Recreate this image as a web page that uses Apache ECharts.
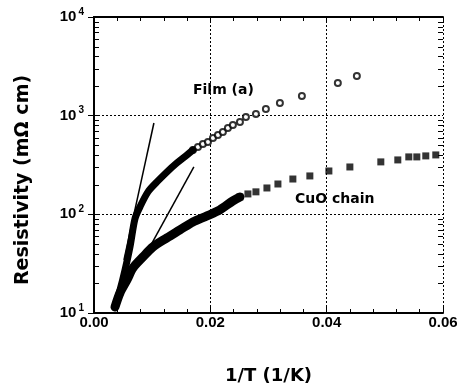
<!DOCTYPE html>
<html>
<head>
<meta charset="utf-8">
<script src="https://cdn.jsdelivr.net/npm/echarts@6/dist/echarts.min.js"></script>
<style>
  html, body { margin: 0; padding: 0; background: #fff; }
  #chart { width: 457px; height: 384px; }
</style>
</head>
<body>
<div id="chart"></div>
<script>
// Film (a): dense part (drawn as a thick band) and the resolved open circles
var filmDense = [
  [0.00361, 11.5], [0.00447, 17.1], [0.00533, 27.3], [0.00619, 46.8],
  [0.00704, 90], [0.0079, 119], [0.00928, 169], [0.01082, 213],
  [0.01254, 269], [0.01426, 332], [0.01598, 400], [0.01701, 449]
];
var filmPoints = [
  [0.01701, 449], [0.01787, 482], [0.01873, 517], [0.01959, 542],
  [0.02045, 595], [0.02131, 637], [0.02216, 684], [0.02302, 750],
  [0.02388, 805], [0.02509, 863], [0.02612, 970], [0.02784, 1040],
  [0.02955, 1170], [0.03196, 1345], [0.03574, 1585], [0.04192, 2145],
  [0.04519, 2525]
];
// CuO chain: dense band and the filled squares
var cuoDense = [
  [0.00361, 11.5], [0.00447, 16.0], [0.00567, 21.6], [0.0067, 28.6],
  [0.00842, 37.0], [0.01014, 46.8], [0.01254, 57.7], [0.01478, 69.5],
  [0.01701, 83.7], [0.01942, 96.4], [0.02165, 111], [0.02388, 137],
  [0.02509, 150]
];
var cuoPoints = [
  [0.02509, 150], [0.02646, 161], [0.02784, 169], [0.02973, 185],
  [0.03162, 203], [0.03419, 228], [0.03711, 245], [0.04038, 275],
  [0.04399, 302], [0.04931, 340], [0.05223, 356], [0.05412, 382],
  [0.0555, 382], [0.05704, 391], [0.05876, 400]
];
// the two straight fit lines
var fitLine1 = [[0.00515, 34.5], [0.0103, 843]];
var fitLine2 = [[0.00961, 46.7], [0.01717, 302]];

// axes
var xMin = 0, xMax = 0.06, xStep = 0.02;
var yMin = 10, yMax = 10000;
var decades = [10, 100, 1000];
var mantissas = [2, 3, 4, 5, 6, 7, 8, 9];

// 2..9 minor tick values of the log axis
var minorTickVals = [];
decades.forEach(function (d) {
  mantissas.forEach(function (m) { minorTickVals.push(d * m); });
});

var tickFont = 'Liberation Sans';
var nameFont = 'DejaVu Sans';

var chart = echarts.init(document.getElementById('chart'));

var baseX = {
  type: 'value', min: xMin, max: xMax, interval: xStep,
  axisLine: { show: true, onZero: false, lineStyle: { color: '#000', width: 2 } },
  axisTick: { show: true, inside: true, length: 6, lineStyle: { color: '#000', width: 1 } },
  minorTick: { show: true, splitNumber: 5, length: 4, lineStyle: { color: '#000', width: 1 } }
};

var option = {
  backgroundColor: '#fff',
  animation: false,
  grid: { left: 94, right: 14, top: 17, bottom: 71, outerBoundsMode: 'none', containLabel: false },
  xAxis: [
    Object.assign({}, baseX, {
      position: 'bottom',
      name: '1/T (1/K)',
      nameLocation: 'middle',
      nameGap: 54,
      nameTextStyle: { fontFamily: nameFont, fontWeight: 'bold', fontSize: 18, color: '#000' },
      axisLabel: {
        margin: 2,
        fontFamily: tickFont, fontWeight: 'bold', fontSize: 15, color: '#000',
        formatter: function (v) { return v.toFixed(2); }
      },
      splitLine: { show: true, lineStyle: { color: '#000', width: 1, type: [2, 2] } }
    }),
    Object.assign({}, baseX, {
      position: 'top',
      axisLabel: { show: false },
      splitLine: { show: false }
    })
  ],
  yAxis: [
    {
      type: 'log', logBase: 10, min: yMin, max: yMax, position: 'left',
      name: 'Resistivity (m\u03A9 cm)',
      nameLocation: 'middle',
      nameGap: 61,
      nameTextStyle: {
        fontFamily: nameFont, fontWeight: 'bold', fontSize: 19, color: '#000',
        padding: [0, 30, 0, 0]
      },
      axisLine: { show: true, lineStyle: { color: '#000', width: 2 } },
      axisTick: { show: true, inside: true, length: 6, lineStyle: { color: '#000' } },
      axisLabel: {
        margin: 10,
        formatter: function (v) {
          return '{b|10}{s|' + Math.round(Math.log10(v)) + '}';
        },
        rich: {
          b: { fontFamily: tickFont, fontWeight: 'bold', fontSize: 15, color: '#000', lineHeight: 20 },
          s: { fontFamily: tickFont, fontWeight: 'bold', fontSize: 10, color: '#000',
               verticalAlign: 'top', lineHeight: 10, padding: [0, 0, 0, 2] }
        }
      },
      splitLine: { show: true, lineStyle: { color: '#000', width: 1, type: [2, 2] } }
    },
    {
      type: 'log', logBase: 10, min: yMin, max: yMax, position: 'right',
      axisLine: { show: true, lineStyle: { color: '#000', width: 2 } },
      axisTick: { show: true, inside: true, length: 6, lineStyle: { color: '#000' } },
      axisLabel: { show: false },
      splitLine: { show: false }
    }
  ],
  series: [
    {
      // short inward ticks at 2..9 x 10^n on both frame sides
      name: 'minor ticks', type: 'custom', silent: true, z: 5,
      xAxisIndex: 0, yAxisIndex: 0,
      data: minorTickVals.map(function (v) { return [xMin, v]; }),
      renderItem: function (params, api) {
        var v = api.value(1);
        var p = api.coord([xMin, v]);
        var q = api.coord([xMax, v]);
        var y = Math.round(p[1]) + 0.5;
        return {
          type: 'group',
          children: [
            { type: 'line', shape: { x1: p[0], y1: y, x2: p[0] + 5, y2: y },
              style: { stroke: '#000', lineWidth: 1 } },
            { type: 'line', shape: { x1: q[0] - 5, y1: y, x2: q[0], y2: y },
              style: { stroke: '#000', lineWidth: 1 } }
          ]
        };
      }
    },
    {
      name: 'CuO chain band', type: 'line', data: cuoDense, showSymbol: false, symbol: 'none',
      smooth: 0.3,
      lineStyle: { color: '#000', width: 9, cap: 'round', join: 'round' }
    },
    {
      name: 'Film band', type: 'line', data: filmDense, showSymbol: false, symbol: 'none',
      smooth: 0.3,
      lineStyle: { color: '#000', width: 7, cap: 'round', join: 'round' }
    },
    {
      name: 'CuO chain', type: 'scatter', data: cuoPoints, symbol: 'rect', symbolSize: 7,
      itemStyle: { color: '#000' }
    },
    {
      name: 'Film (a)', type: 'scatter', data: filmPoints, symbol: 'circle', symbolSize: 6,
      itemStyle: { color: '#fff', borderColor: '#000', borderWidth: 2 }
    },
    {
      name: 'fit 1', type: 'line', data: fitLine1, symbol: 'none',
      lineStyle: { color: '#000', width: 1.5 }
    },
    {
      name: 'fit 2', type: 'line', data: fitLine2, symbol: 'none',
      lineStyle: { color: '#000', width: 1.5 }
    }
  ],
  graphic: [
    {
      type: 'text', left: 193, top: 83,
      style: { text: 'Film (a)', fontFamily: nameFont, fontWeight: 'bold', fontSize: 14, fill: '#000' }
    },
    {
      type: 'text', left: 295, top: 192,
      style: { text: 'CuO chain', fontFamily: nameFont, fontWeight: 'bold', fontSize: 14, fill: '#000' }
    }
  ]
};

chart.setOption(option);
</script>
</body>
</html>
